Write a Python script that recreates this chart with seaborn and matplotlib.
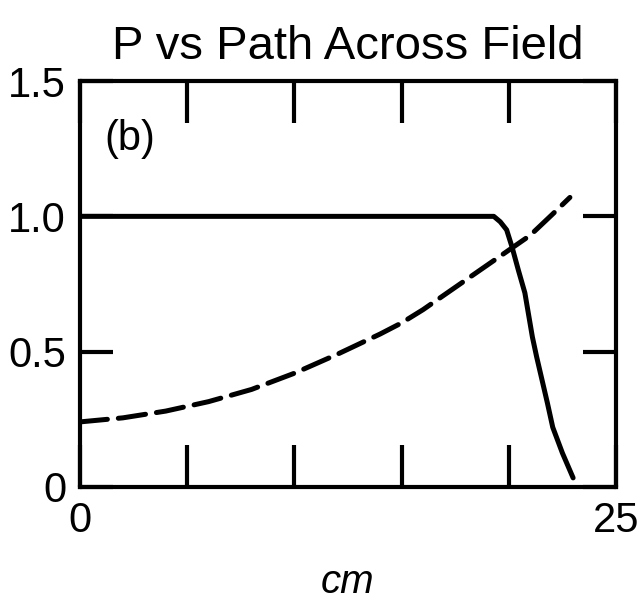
import matplotlib
matplotlib.use("Agg")
import matplotlib.pyplot as plt
import pandas as pd
import seaborn as sns

# Solid curve: P stays at 1.0 across the field, then falls off near the far edge
solid_cm = [0.0, 19.3, 19.6, 19.9, 20.15, 20.45, 20.75, 21.1, 21.3, 21.8, 22.05, 22.5, 23.0]
solid_p = [1.0, 1.0, 0.98, 0.95, 0.887, 0.80, 0.717, 0.554, 0.48, 0.31, 0.22, 0.125, 0.033]

# Dashed curve: slow rise across the field
dashed_cm = [0.0, 2.0, 4.0, 6.0, 8.0, 10.0, 12.0, 14.0, 15.0, 16.0, 17.0, 18.0,
             19.0, 20.0, 21.0, 22.0, 22.85]
dashed_p = [0.24, 0.255, 0.28, 0.315, 0.36, 0.42, 0.49, 0.565, 0.606, 0.655, 0.71,
            0.765, 0.82, 0.875, 0.93, 1.005, 1.07]

x_ticks = [0, 5, 10, 15, 20, 25]
x_tick_labels = ["0", "", "", "", "", "25"]
y_ticks = [0.0, 0.5, 1.0, 1.5]
y_tick_labels = ["0", "0.5", "1.0", "1.5"]

title = "P vs Path Across Field"
x_label = "cm"
panel_label = "(b)"

sns.set_style("white")
plt.rcParams["font.family"] = ["Liberation Sans Narrow", "Liberation Sans", "DejaVu Sans"]
plt.rcParams["text.color"] = "black"
plt.rcParams["axes.labelcolor"] = "black"
plt.rcParams["xtick.color"] = "black"
plt.rcParams["ytick.color"] = "black"

solid_df = pd.DataFrame({"cm": solid_cm, "P": solid_p})
dashed_df = pd.DataFrame({"cm": dashed_cm, "P": dashed_p})

fig = plt.figure(figsize=(6.4, 6.01), dpi=100)
ax = fig.add_axes([0.125, 0.19, 0.8375, 0.675])

sns.lineplot(data=solid_df, x="cm", y="P", ax=ax, color="black", lw=3.6,
             sort=False, estimator=None, solid_capstyle="round")
sns.lineplot(data=dashed_df, x="cm", y="P", ax=ax, color="black", lw=3.6,
             sort=False, estimator=None, dashes=False)
ax.lines[-1].set_linestyle((0, (5.5, 2.2)))
ax.lines[-1].set_dash_capstyle("round")

ax.set_xlim(0, 25)
ax.set_ylim(0, 1.5)

ax.set_xticks(x_ticks)
ax.set_xticklabels(x_tick_labels)
ax.set_yticks(y_ticks)
ax.set_yticklabels(y_tick_labels)

for side in ["left", "right", "top", "bottom"]:
    ax.spines[side].set_visible(True)
    ax.spines[side].set_linewidth(3.0)
    ax.spines[side].set_color("black")

ax.tick_params(axis="x", which="major", direction="in", length=30, width=3,
               top=True, bottom=True, labelsize=30, pad=10, colors="black")
ax.tick_params(axis="y", which="major", direction="in", length=24, width=3,
               left=True, right=True, labelsize=30, pad=10, colors="black")

ax.set_xlabel(x_label, fontsize=29, style="italic", labelpad=16,
              family=["Liberation Sans", "DejaVu Sans"], color="black")
ax.set_ylabel("")
ax.set_title(title, fontsize=34, pad=16, color="black")

ax.text(2.33, 1.285, panel_label, fontsize=30, ha="center", va="center",
        color="black")

fig.savefig("out.png", dpi=100, facecolor="white")
